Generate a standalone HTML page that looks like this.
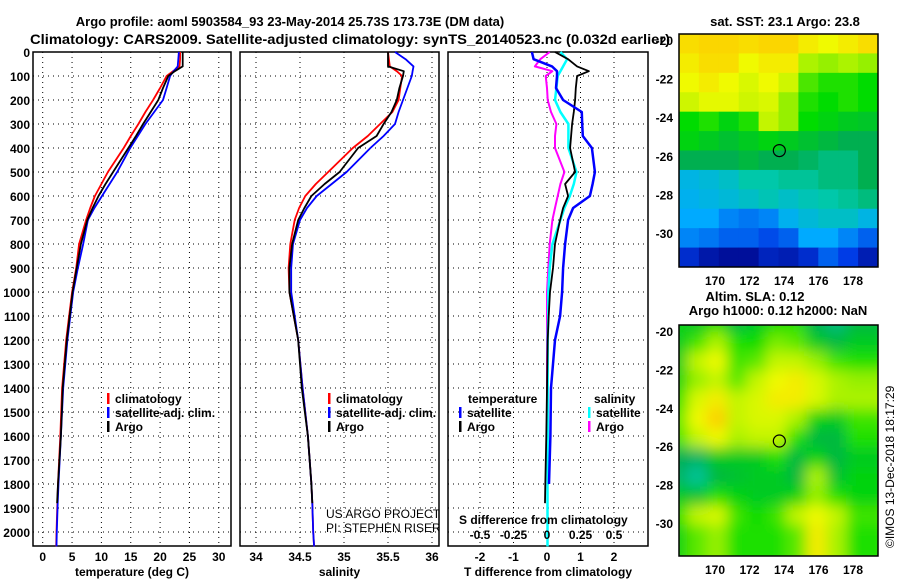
<!DOCTYPE html>
<html><head><meta charset="utf-8"><style>
body{margin:0;background:#fff}
svg{display:block;font-family:"Liberation Sans",sans-serif}
.t{font-weight:bold;font-size:13px}
.k{font-weight:bold;font-size:12px}
</style></head><body>
<svg id="s" width="900" height="580">
<text class="t" x="290" y="26" text-anchor="middle">Argo profile: aoml 5903584_93 23-May-2014 25.73S 173.73E (DM data)</text>
<text x="30" y="44" font-size="14" font-weight="bold" textLength="640" lengthAdjust="spacingAndGlyphs">Climatology: CARS2009. Satellite-adjusted climatology: synTS_20140523.nc (0.032d earlier)</text>
<text class="t" x="785" y="26" text-anchor="middle">sat. SST: 23.1 Argo: 23.8</text>
<text class="t" x="755" y="301" text-anchor="middle">Altim. SLA: 0.12</text>
<text class="t" x="778" y="315" text-anchor="middle">Argo h1000: 0.12 h2000: NaN</text>
<text x="894" y="548" font-size="12" transform="rotate(-90 894 548)">©IMOS 13-Dec-2018 18:17:29</text>
<g id="g"></g>
</svg>
<script>
const depths=[0,30,60,80,100,150,200,250,300,350,400,500,550,600,650,700,800,900,1000,1100,1200,1400,1600,1800,1880,2000,2060];
const tempArgo=[23.85,23.85,23.85,22.5,21.4,20.5,19.7,18.4,17.1,15.9,14.6,12.0,10.7,9.5,8.5,7.6,6.5,5.8,5.1,4.6,4.1,3.4,3.1,2.6,2.45,null,null];
const tempClim=[23.4,23.4,23.3,22.2,21.1,20.0,18.8,17.5,16.3,15.0,13.8,11.1,10.0,8.9,8.1,7.4,6.2,5.7,5.0,4.5,4.0,3.3,3.0,2.6,2.5,2.35,2.3];
const tempSat=[23.2,23.1,23.0,22.3,21.7,21.1,20.5,19.0,17.5,16.2,14.9,12.7,11.4,10.1,8.8,7.7,6.9,6.0,5.2,4.7,4.2,3.5,3.1,2.7,2.55,2.4,2.35];
const salArgo=[35.5,35.5,35.5,35.68,35.67,35.63,35.6,35.54,35.45,35.37,35.16,34.95,34.78,34.63,34.55,34.48,34.41,34.38,34.38,34.43,34.48,34.52,34.59,34.63,34.64,null,null];
const salClim=[35.5,35.51,35.52,35.6,35.66,35.64,35.62,35.55,35.41,35.27,35.1,34.82,34.68,34.56,34.49,34.44,34.39,34.37,34.38,34.43,34.48,34.53,34.59,34.63,34.64,34.65,34.66];
const salSat=[35.58,35.7,35.79,35.78,35.77,35.72,35.67,35.62,35.58,35.45,35.3,35.03,34.86,34.69,34.58,34.5,34.42,34.4,34.4,34.44,34.48,34.53,34.59,34.63,34.64,34.65,34.66];
const dTArgo=[0.24,0.63,0.9,1.25,0.9,0.86,0.84,0.8,0.75,0.72,0.69,0.84,0.54,0.63,0.48,0.39,0.24,0.18,0.09,0.05,0.02,0,-0.02,-0.05,-0.06,null,null];
const dTSat=[-0.45,-0.4,0.15,0.3,0.3,0.27,0.48,1.04,1.05,1.07,1.34,1.43,1.36,1.28,0.78,0.63,0.54,0.48,0.45,0.39,0.24,0.12,0.1,0.06,null,null,null];
const dSSat=[0.1,0.15,0.12,0.1,0.08,0.07,0.06,0.1,0.16,0.16,0.16,0.22,0.2,0.17,0.13,0.1,0.04,0.02,0.01,0.01,0.005,0.005,0.005,0.004,0.004,0.004,0.004];
const dSArgo=[0.02,-0.05,-0.09,0.04,-0.01,0,0.005,0.03,0.07,0.06,0.06,0.13,0.1,0.08,0.06,0.04,0.02,0.01,0,0,0,0,0,null,null,null,null];
const depthTicks=[0,100,200,300,400,500,600,700,800,900,1000,1100,1200,1300,1400,1500,1600,1700,1800,1900,2000];
const tempTicks=[0,5,10,15,20,25,30];
const salTicks=[34,34.5,35,35.5,36];
const dTTicks=[-2,-1,0,1,2];
const dSTickLabels=["-0.5","-0.25","0","0.25","0.5"];
const dSTicks=[-0.5,-0.25,0,0.25,0.5];
const lonTicks=[170,172,174,176,178];
const latTicks=[-20,-22,-24,-26,-28,-30];
const sstGrid=[
[.92,.93,.93,.92,.93,.93,.9,.88,.9,.92],
[.9,.92,.92,.88,.9,.9,.82,.8,.82,.8],
[.88,.9,.88,.86,.88,.85,.75,.72,.72,.7],
[.85,.87,.87,.85,.86,.8,.72,.7,.72,.7],
[.7,.72,.68,.72,.84,.8,.7,.68,.66,.65],
[.68,.66,.64,.66,.68,.66,.64,.62,.6,.6],
[.6,.6,.6,.62,.6,.6,.58,.55,.55,.6],
[.4,.42,.45,.5,.5,.52,.52,.55,.55,.6],
[.38,.4,.42,.45,.48,.45,.48,.5,.52,.55],
[.35,.35,.3,.28,.3,.38,.42,.45,.45,.4],
[.3,.28,.25,.25,.22,.25,.35,.35,.3,.25],
[.15,.08,.05,.05,.12,.1,.15,.25,.2,.1]];
const slaGrid=[
[.68,.65,.7,.62,.66,.7,.72,.6,.55,.62],
[.66,.74,.82,.72,.7,.78,.76,.66,.62,.66],
[.66,.84,.88,.74,.76,.84,.84,.8,.74,.72],
[.68,.8,.84,.76,.84,.88,.9,.86,.82,.8],
[.72,.86,.9,.84,.86,.9,.9,.86,.82,.82],
[.76,.88,.94,.84,.86,.86,.82,.68,.66,.74],
[.74,.84,.88,.82,.84,.84,.72,.62,.62,.72],
[.6,.58,.66,.66,.66,.72,.62,.68,.62,.66],
[.58,.52,.62,.64,.66,.66,.62,.82,.64,.68],
[.66,.64,.72,.68,.66,.66,.68,.8,.72,.68],
[.72,.84,.86,.74,.7,.74,.84,.88,.84,.74],
[.68,.76,.8,.72,.72,.72,.76,.9,.82,.72]];
const floatLon=173.73, floatLat=-25.73;

const NS="http://www.w3.org/2000/svg";
const G=document.getElementById('g');
function mk(tag,at,par){const e=document.createElementNS(NS,tag);for(const k in at)e.setAttribute(k,at[k]);(par||G).appendChild(e);return e;}
const yD=d=>52+d*0.24;
const TOP=52,BOT=546;
const panels=[
 {name:'temperature',x0:33,x1:231,fx:v=>42.7+v*5.87,ticks:tempTicks,labels:tempTicks.map(String),xl:'temperature (deg C)'},
 {name:'salinity',x0:240,x1:439,fx:v=>256+(v-34)*88,ticks:salTicks,labels:salTicks.map(String),xl:'salinity'},
 {name:'difference',x0:448,x1:648,fx:v=>547+v*33.5,ticks:dTTicks,labels:dTTicks.map(String),xl:'T difference from climatology'}];
panels.forEach((p,i)=>{
 const g=mk('g',{});
 
 
 depthTicks.forEach(d=>{const l=mk('line',{x1:p.x0,x2:p.x1,y1:yD(d),y2:yD(d),stroke:'#000','stroke-width':1,'stroke-dasharray':'1 4'},g);
  });
 p.ticks.forEach((t,j)=>{const x=p.fx(t);
  const l=mk('line',{x1:x,x2:x,y1:TOP,y2:BOT,stroke:'#000','stroke-width':1,'stroke-dasharray':'1 4'},g);
  
  const tx=mk('text',{x:x,y:561,'text-anchor':'middle',class:'k'},g);tx.textContent=p.labels[j];
  });
 const xl=mk('text',{x:(p.x0+p.x1)/2,y:576,'text-anchor':'middle',class:'k'},g);xl.textContent=p.xl;
 
 const fr=mk('rect',{x:p.x0,y:TOP,width:p.x1-p.x0,height:BOT-TOP,fill:'none',stroke:'#000','stroke-width':1.5},g);
 
});
depthTicks.forEach(d=>{const t=mk('text',{x:30,y:yD(d)+5,'text-anchor':'end',class:'k'});t.textContent=d;
 });
function line(vals,fx,col,w,name){
 let dstr='',pen=false;
 vals.forEach((v,i)=>{if(v===null){pen=false;return;}dstr+=(pen?'L':'M')+fx(v).toFixed(1)+' '+yD(depths[i]).toFixed(1);pen=true;});
 const p=mk('path',{d:dstr,fill:'none',stroke:col,'stroke-width':w,'stroke-linejoin':'round'});
 
 
}
const P=panels;
line(tempClim,P[0].fx,'#f00',1.8,'temp-climatology-line');
line(tempSat,P[0].fx,'#00f',1.8,'temp-satellite-line');
line(tempArgo,P[0].fx,'#000',1.8,'temp-argo-line');
line(salClim,P[1].fx,'#f00',1.8,'sal-climatology-line');
line(salSat,P[1].fx,'#00f',1.8,'sal-satellite-line');
line(salArgo,P[1].fx,'#000',1.8,'sal-argo-line');
const fS=v=>547+v*134;
line(dSArgo,fS,'#f0f',2,'sdiff-argo-line');
line(dSSat,fS,'#0ff',2.5,'sdiff-satellite-line');
line(dTArgo,P[2].fx,'#000',1.8,'tdiff-argo-line');
line(dTSat,P[2].fx,'#00f',2.5,'tdiff-satellite-line');
function leg(x,y,col,txt,name){
 const r=mk('rect',{x:x,y:y-10,width:2.5,height:11,fill:col});
 
 const t=mk('text',{x:x+8,y:y,class:'k'});t.textContent=txt;
 
}
leg(107,403,'#f00','climatology','legend-climatology');
leg(107,417,'#00f','satellite-adj. clim.','legend-satellite');
leg(107,431,'#000','Argo','legend-argo');
leg(328,403,'#f00','climatology','legend2-climatology');
leg(328,417,'#00f','satellite-adj. clim.','legend2-satellite');
leg(328,431,'#000','Argo','legend2-argo');
leg(459,417,'#00f','satellite','legend-tdiff-satellite');
leg(459,431,'#000','Argo','legend-tdiff-argo');
leg(588,417,'#0ff','satellite','legend-sdiff-satellite');
leg(588,431,'#f0f','Argo','legend-sdiff-argo');
[[468,403,'temperature','legend-temperature-header'],[594,403,'salinity','legend-salinity-header']].forEach(a=>{
 const t=mk('text',{x:a[0],y:a[1],class:'k'});t.textContent=a[2];});
const cp2=mk('clipPath',{id:'cp2'});mk('rect',{x:240,y:52,width:199,height:494},cp2);
const g2=mk('g',{'clip-path':'url(#cp2)'});
[[326,518,'US ARGO PROJECT','project-label'],[326,532,'PI: STEPHEN RISER','pi-label']].forEach(a=>{
 const t=mk('text',{x:a[0],y:a[1],'font-size':12},g2);t.textContent=a[2];});
const sd=mk('text',{x:459,y:524,class:'k'});sd.textContent='S difference from climatology';

dSTicks.forEach((v,j)=>{const t=mk('text',{x:fS(v),y:539,'text-anchor':'middle',class:'k'});t.textContent=dSTickLabels[j];
 });
const stops=[[0,[0,0,128]],[.2,[0,60,230]],[.35,[0,170,255]],[.5,[0,200,170]],[.6,[0,175,80]],[.7,[0,220,0]],[.8,[150,240,0]],[.88,[240,250,0]],[.95,[255,200,0]],[1,[255,150,0]]];
function cmap(v){for(let i=1;i<stops.length;i++){if(v<=stops[i][0]){const a=stops[i-1],b=stops[i],f=(v-a[0])/(b[0]-a[0]);
 return 'rgb('+a[1].map((c,k)=>Math.round(c+(b[1][k]-c)*f)).join(',')+')';}}return 'rgb(255,150,0)';}
const filt=mk('filter',{id:'bl',x:'-10%',y:'-10%',width:'120%',height:'120%'});mk('feGaussianBlur',{stdDeviation:7},filt);
function map(grid,y0,y1,lat20y,latStep,name,blur){
 const x0=679,x1=878,lonX=l=>715+(l-170)*17.25,latY=l=>lat20y+(-20-l)*latStep;
 const cpm=mk('clipPath',{id:'cl'+name});mk('rect',{x:x0,y:y0,width:x1-x0,height:y1-y0},cpm);
 const g=mk('g',{'clip-path':'url(#cl'+name+')'});
 
 const gi=mk('g',blur?{filter:'url(#bl)'}:{},g);
 const rows=grid.length,cols=grid[0].length,cw=(x1-x0)/cols,rh=(y1-y0)/rows;
 grid.forEach((r,i)=>r.forEach((v,j)=>{
  const c=mk('rect',{x:x0+j*cw-(blur?12:0),y:y0+i*rh-(blur?12:0),width:cw+0.5+(blur?24:0),height:rh+0.5+(blur?24:0),fill:cmap(v)},gi);
  
 }));
 const ci=mk('circle',{cx:lonX(floatLon),cy:latY(floatLat),r:6,fill:'none',stroke:'#000','stroke-width':1.2});
 
 const fr=mk('rect',{x:x0,y:y0,width:x1-x0,height:y1-y0,fill:'none',stroke:'#000','stroke-width':1.5});
 
 lonTicks.forEach(l=>{const t=mk('text',{x:lonX(l),y:y1+18,'text-anchor':'middle',class:'k'});t.textContent=l;
  });
 latTicks.forEach(l=>{const t=mk('text',{x:673,y:latY(l)+5,'text-anchor':'end',class:'k'});t.textContent=l;
  });
}
map(sstGrid,34,267,40,19.3,'sst',false);
map(slaGrid,325,556,331,19.2,'sla',true);
</script>
</body></html>
